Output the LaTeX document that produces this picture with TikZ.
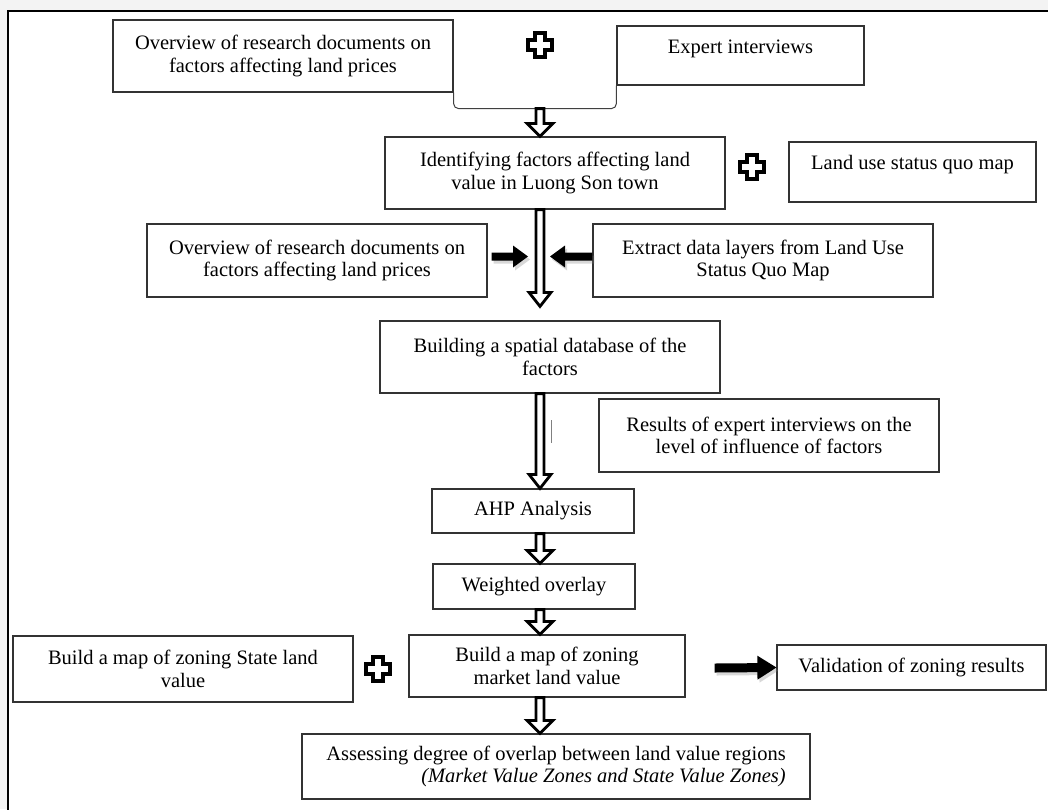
\documentclass[tikz,border=0pt]{standalone}
\usepackage{fontspec}
\setmainfont{Liberation Serif}
\usepackage{xcolor}
\usetikzlibrary{positioning, calc, shadows}
\definecolor{pagegray}{HTML}{F3F3F3}

% block arrow between two points: style, from, to, shaft half width, head half width, head length
\newcommand{\blockarrow}[6]{%
  \coordinate (hb) at ($(#3)!#6!(#2)$);
  \path[#1] ($(#2)!#4!90:(#3)$) -- ($(hb)!#4!-90:(#2)$) -- ($(hb)!#5!-90:(#2)$) -- (#3)
    -- ($(hb)!#5!90:(#2)$) -- ($(hb)!#4!90:(#2)$) -- ($(#2)!#4!-90:(#3)$) -- cycle;}
% plus mark at a point
\newcommand{\plusmark}[1]{%
  \path[plussign] (#1) ++(-5,-12) -- ++(10,0) -- ++(0,7) -- ++(7,0) -- ++(0,10) -- ++(-7,0)
    -- ++(0,7) -- ++(-10,0) -- ++(0,-7) -- ++(-7,0) -- ++(0,-10) -- ++(7,0) -- cycle;}

\begin{document}
\begin{tikzpicture}[x=1pt, y=-1pt,
    stage/.style={rectangle, draw=black!80, line width=1.2pt, fill=white, align=center, inner sep=2pt, text=black, font=\fontsize{20.5}{22.5}\selectfont},
    toptext/.style={text height=15pt, text depth=20pt},
    openarrow/.style={draw=black, line width=2.8pt, fill=white, line join=miter},
    blackarrow/.style={fill=black, drop shadow={shadow xshift=2pt, shadow yshift=-3pt, opacity=0.3}},
    plussign/.style={draw=black, line width=4pt, fill=white, line join=miter}
]
    \useasboundingbox (0,0) rectangle (1048,809);
    \clip (0,0) rectangle (1048,809);
    \fill[pagegray] (0,0) rectangle (1048,809);
    \draw[line width=2pt, fill=white] (8,11) rectangle (1060,820);

    \coordinate (axis) at (540,0);

    % boxes
    \node[stage, minimum width=340pt, minimum height=72pt] (docsA) at (283,56) {Overview of research documents on\\factors affecting land prices};
    \node[stage, toptext, minimum width=247pt, minimum height=59pt] (expert) at (740.5,55.5) {Expert interviews};
    \node[stage, minimum width=340pt, minimum height=72pt] (identify) at (555,173) {Identifying factors affecting land\\value in Luong Son town};
    \node[stage, toptext, minimum width=247pt, minimum height=60pt] (landuse) at (912.5,172) {Land use status quo map};
    \node[stage, minimum width=340pt, minimum height=73pt] (docsB) at (317,260.5) {Overview of research documents on\\factors affecting land prices};
    \node[stage, minimum width=340pt, minimum height=73pt] (extract) at (763,260.5) {Extract data layers from Land Use\\Status Quo Map};
    \node[stage, minimum width=340pt, minimum height=72pt] (spatial) at (550,357) {Building a spatial database of the\\factors};
    \node[stage, minimum width=340pt, minimum height=73pt] (results) at (769,435.5) {Results of expert interviews on the\\level of influence of factors};
    \node[stage, minimum width=202pt, minimum height=44pt] (ahp) at (533,511) {AHP Analysis};
    \node[stage, minimum width=202pt, minimum height=45pt] (overlay) at (534,586.5) {Weighted overlay};
    \node[stage, minimum width=276pt, minimum height=62pt] (market) at (547,666) {Build a map of zoning\\market land value};
    \node[stage, minimum width=340pt, minimum height=66pt] (state) at (183,669) {Build a map of zoning State land\\value};
    \node[stage, minimum width=269pt, minimum height=45pt] (valid) at (911.5,667.5) {Validation of zoning results};
    \node[stage, align=right, minimum width=508pt, minimum height=65pt] (assess) at (556,766.5) {Assessing degree of overlap between land value regions\\\textit{(Market Value Zones and State Value Zones)}};

    % plus marks
    \plusmark{540,45}
    \plusmark{752,167}
    \plusmark{378,669}

    % bracket joining the two sources
    \coordinate (brk) at ($(docsA.south east)+(0,16)$);
    \draw[line width=1pt, black!75, rounded corners=5pt] (docsA.south east) -- (brk) -| (expert.south west);

    % main flow
    \blockarrow{openarrow}{axis |- brk}{axis |- identify.north}{4pt}{13pt}{13pt}
    \coordinate (tipS) at ($(axis |- spatial.north)+(0,-14)$);
    \blockarrow{openarrow}{axis |- identify.south}{tipS}{4pt}{11pt}{14pt}
    \blockarrow{openarrow}{axis |- spatial.south}{axis |- ahp.north}{4pt}{11pt}{14pt}
    \blockarrow{openarrow}{axis |- ahp.south}{axis |- overlay.north}{4pt}{13pt}{13pt}
    \blockarrow{openarrow}{axis |- overlay.south}{axis |- market.north}{4pt}{13pt}{13pt}
    \blockarrow{openarrow}{axis |- market.south}{axis |- assess.north}{4pt}{13pt}{13pt}
    \draw[black!50, line width=0.8pt] (551,420) -- (551,443);

    % side inputs
    \coordinate (srcL) at ($(docsB.east)+(4,-4)$);
    \coordinate (tipL) at ($(axis |- docsB.east)+(-12,-4)$);
    \coordinate (srcR) at ($(extract.west)+(0,-4)$);
    \coordinate (tipR) at ($(axis |- extract.west)+(10,-4)$);
    \blockarrow{blackarrow}{srcL}{tipL}{4pt}{11pt}{15pt}
    \blockarrow{blackarrow}{srcR}{tipR}{4pt}{11pt}{15pt}
    \coordinate (srcV) at ($(market.east)+(29,2)$);
    \blockarrow{blackarrow}{srcV}{valid.west}{4.5pt}{12pt}{19pt}
\end{tikzpicture}
\end{document}
